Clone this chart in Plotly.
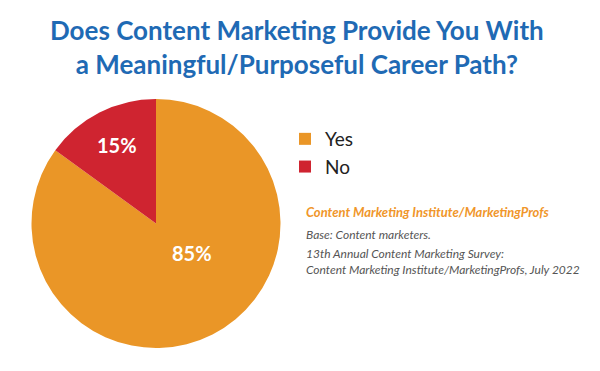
import plotly.graph_objects as go

labels = ["Yes", "No"]
values = [85, 15]
colors = ["#EA9627", "#CF2430"]

title_lines = ["Does Content Marketing Provide You With",
               "a Meaningful/Purposeful Career Path?"]
source_title = "Content Marketing Institute/MarketingProfs"
base_note = "Base: Content marketers."
source_lines = ["13th Annual Content Marketing Survey:",
                "Content Marketing Institute/MarketingProfs, July 2022"]

W, H = 600, 371

fig = go.Figure(go.Pie(
    labels=labels,
    values=values,
    sort=False,
    direction="clockwise",
    rotation=0,
    marker=dict(colors=colors, line=dict(width=0)),
    textinfo="none",
    hoverinfo="label+percent",
    domain=dict(x=[31/W, 281/W], y=[1-348/H, 1-99/H]),
))

# percentage labels (text from the data), placed inside their slices
label_pos = {"Yes": (192, 253), "No": (117, 145)}
annotations = []
for lab, val in zip(labels, values):
    px, py = label_pos[lab]
    annotations.append(dict(
        text="<b>%d%%</b>" % val, x=px/W, y=1-py/H,
        xref="paper", yref="paper", xanchor="center", yanchor="middle",
        showarrow=False, font=dict(family="Lato", size=20, color="white")))

# title
annotations.append(dict(
    text="<b>" + "<br>".join(title_lines) + "</b>", x=297/W, y=1-47/H,
    xref="paper", yref="paper", xanchor="center", yanchor="middle",
    showarrow=False, font=dict(family="Lato", size=26, color="#1F6AB4")))

annotations += [
    dict(text="<b><i>" + source_title + "</i></b>", x=304/W, y=1-212/H,
         xref="paper", yref="paper", xanchor="left", yanchor="middle",
         showarrow=False, font=dict(family="Lato", size=13, color="#F0962A")),
    dict(text="<i>" + base_note + "</i>", x=304/W, y=1-234/H,
         xref="paper", yref="paper", xanchor="left", yanchor="middle",
         showarrow=False, font=dict(family="Lato", size=12, color="#555555")),
    dict(text="<i>" + "<br>".join(source_lines) + "</i>", x=304/W, y=1-261.5/H,
         xref="paper", yref="paper", xanchor="left", yanchor="middle", align="left",
         showarrow=False, font=dict(family="Lato", size=12, color="#555555")),
]

fig.update_layout(
    width=W, height=H,
    margin=dict(l=0, r=0, t=0, b=0),
    paper_bgcolor="white",
    plot_bgcolor="white",
    legend=dict(
        x=285/W, xanchor="left",
        y=1-120/H, yanchor="top",
        font=dict(family="Lato", size=19, color="#222222"),
        tracegroupgap=8,
        bgcolor="rgba(0,0,0,0)",
    ),
    annotations=annotations,
)

fig.write_html("out.html", config={"displayModeBar": False},
               post_script="document.body.style.margin='0';")
